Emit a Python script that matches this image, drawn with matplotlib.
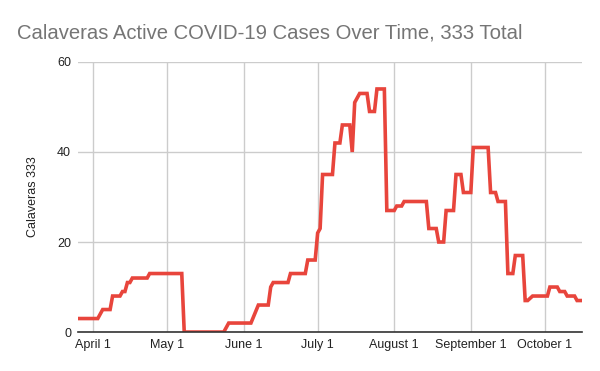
import pandas as pd
import matplotlib
matplotlib.use("Agg")
import matplotlib.pyplot as plt

# vertices of the active-case line
dates = [
    "2020-03-26", "2020-04-03", "2020-04-05", "2020-04-08", "2020-04-09",
    "2020-04-12", "2020-04-13", "2020-04-14", "2020-04-15", "2020-04-16",
    "2020-04-17", "2020-04-23", "2020-04-24", "2020-05-07", "2020-05-08",
    "2020-05-24", "2020-05-25", "2020-05-26", "2020-06-04", "2020-06-07",
    "2020-06-11", "2020-06-12", "2020-06-13", "2020-06-19", "2020-06-20",
    "2020-06-26", "2020-06-27", "2020-06-30", "2020-07-01", "2020-07-02",
    "2020-07-03", "2020-07-07", "2020-07-08", "2020-07-10", "2020-07-11",
    "2020-07-14", "2020-07-15", "2020-07-16", "2020-07-18", "2020-07-21",
    "2020-07-22", "2020-07-24", "2020-07-25", "2020-07-28", "2020-07-29",
    "2020-08-01", "2020-08-02", "2020-08-04", "2020-08-05", "2020-08-14",
    "2020-08-15", "2020-08-18", "2020-08-19", "2020-08-21", "2020-08-22",
    "2020-08-25", "2020-08-26", "2020-08-28", "2020-08-29", "2020-09-01",
    "2020-09-02", "2020-09-08", "2020-09-09", "2020-09-11", "2020-09-12",
    "2020-09-15", "2020-09-16", "2020-09-18", "2020-09-19", "2020-09-22",
    "2020-09-23", "2020-09-24", "2020-09-26", "2020-10-02", "2020-10-03",
    "2020-10-06", "2020-10-07", "2020-10-09", "2020-10-10", "2020-10-13",
    "2020-10-14", "2020-10-16",
]
cases = [
    3, 3, 5, 5, 8,
    8, 9, 9, 11, 11,
    12, 12, 13, 13, 0,
    0, 1, 2, 2, 6,
    6, 10, 11, 11, 13,
    13, 16, 16, 22, 23,
    35, 35, 42, 42, 46,
    46, 40, 51, 53, 53,
    49, 49, 54, 54, 27,
    27, 28, 28, 29, 29,
    23, 23, 20, 20, 27,
    27, 35, 35, 31, 31,
    41, 41, 31, 31, 29,
    29, 13, 13, 17, 17,
    7, 7, 8, 8, 10,
    10, 9, 9, 8, 8,
    7, 7,
]
tick_dates = ["2020-04-01", "2020-05-01", "2020-06-01", "2020-07-01",
              "2020-08-01", "2020-09-01", "2020-10-01"]
tick_labels = ["April 1", "May 1", "June 1", "July 1",
               "August 1", "September 1", "October 1"]
yticks = [0, 20, 40, 60]

plt.rcParams['font.family'] = ['Liberation Sans', 'DejaVu Sans']

x = pd.to_datetime(dates)
fig = plt.figure(figsize=(6, 3.71), dpi=100)
ax = fig.add_axes([0.13, 0.105, 0.84, 0.728])

ax.plot(x, cases, color='#e8453c', linewidth=2.6, solid_joinstyle='miter')

ax.set_xlim(x[0], x[-1])
ax.set_ylim(0, 60)
ax.set_yticks(yticks)
ax.set_xticks(pd.to_datetime(tick_dates))
ax.set_xticklabels(tick_labels)
ax.grid(True, color='#cccccc', linewidth=1)
ax.set_axisbelow(True)
for s in ['top', 'right', 'left']:
    ax.spines[s].set_visible(False)
ax.spines['bottom'].set_color('#333333')
ax.spines['bottom'].set_linewidth(1.2)
ax.tick_params(axis='both', length=0, labelsize=9, colors='#222222')
ax.tick_params(axis='x', pad=5)
ax.tick_params(axis='y', pad=5)
ax.set_ylabel('Calaveras 333', fontsize=9, color='#222222', labelpad=13)

fig.text(0.028, 0.91, 'Calaveras Active COVID-19 Cases Over Time, 333 Total',
         fontsize=14.6, color='#757575', va='center', ha='left')

fig.savefig('out.png', dpi=100)
